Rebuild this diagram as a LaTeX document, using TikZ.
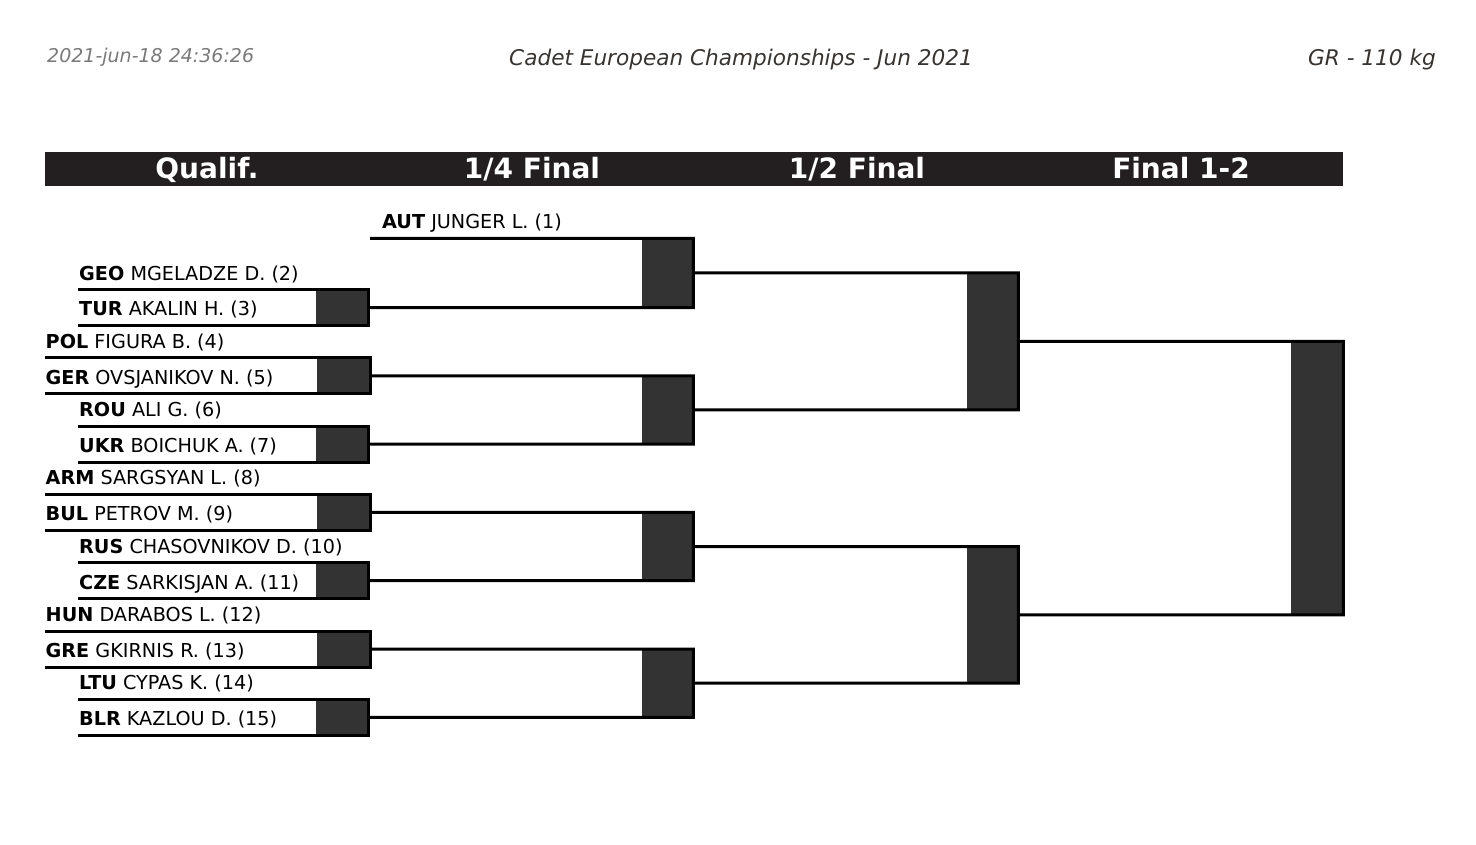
\documentclass[tikz,border=0pt]{standalone}
\usepackage{fontspec}
\setmainfont{DejaVu Sans}
\definecolor{boxc}{HTML}{333333}
\definecolor{barc}{HTML}{231F20}
\definecolor{datec}{HTML}{7A7A7A}
\definecolor{titc}{HTML}{363330}
\tikzset{
  ln/.style={line width=3pt, line join=miter},
  mbox/.style={fill=boxc, inner sep=0pt, outer sep=0pt, anchor=north west},
  qbox/.style={mbox, minimum width=52pt, minimum height=36pt},
  rbox/.style={mbox, minimum width=51.8pt},
  nm/.style={anchor=base west, inner sep=0pt, font=\fontsize{19.2}{22}\selectfont},
  hd/.style={anchor=base, inner sep=0pt, text=white, font=\fontsize{28}{30}\selectfont\bfseries},
  topt/.style={inner sep=0pt, font=\fontsize{21.6}{24}\selectfont\itshape, text=titc},
}
\begin{document}
\begin{tikzpicture}[x=1pt,y=-1pt]
\useasboundingbox (0,0) rectangle (1476,845);

% header texts
\node[topt, anchor=base west, text=datec, font=\fontsize{19}{22}\selectfont\itshape] (date) at (47,63) {2021-jun-18 24:36:26};
\node[topt, anchor=base] (title) at (741,66) {Cadet European Championships - Jun 2021};
\node[topt, anchor=base east] (cat) at (1436,66) {GR - 110 kg};

% round header bar
\node[fill=barc, inner sep=0pt, anchor=north west, minimum width=1298pt, minimum height=34pt] (bar) at (45,152) {};
\node[hd] (h1) at (207,179) {Qualif.};
\node[hd] (h2) at (532,179) {1/4 Final};
\node[hd] (h3) at (857,179) {1/2 Final};
\node[hd] (h4) at (1181,179) {Final 1-2};

% qualification boxes
\node[qbox] (q1) at (316,289.5) {};
\node[qbox, minimum width=53pt] (q2) at (317,357.8) {};
\node[qbox] (q3) at (316,426.1) {};
\node[qbox, minimum width=53pt] (q4) at (317,494.4) {};
\node[qbox] (q5) at (316,562.7) {};
\node[qbox, minimum width=53pt] (q6) at (317,631.0) {};
\node[qbox] (q7) at (316,699.3) {};

% quarter-final boxes
\node[rbox, minimum height=69.2pt] (r1) at (641.5,238.3) {};
\node[rbox, minimum height=68.3pt] (r2) at (641.5,375.8) {};
\node[rbox, minimum height=68.3pt] (r3) at (641.5,512.4) {};
\node[rbox, minimum height=68.3pt] (r4) at (641.5,649.0) {};

% semi-final boxes
\node[rbox, minimum height=137.05pt] (s1) at (966.5,272.9) {};
\node[rbox, minimum height=136.6pt] (s2) at (966.5,546.55) {};

% final box
\node[rbox, minimum width=52.3pt, minimum height=273.45pt] (fin) at (1291,341.4) {};

% names
\node[nm] (geo) at (79,280.0) {\textbf{GEO} MGELADZE D. (2)};
\node[nm] (tur) at (79,316.0) {\textbf{TUR} AKALIN H. (3)};
\node[nm] (pol) at (45.5,348.3) {\textbf{POL} FIGURA B. (4)};
\node[nm] (ger) at (45.5,384.3) {\textbf{GER} OVSJANIKOV N. (5)};
\node[nm] (rou) at (79,416.6) {\textbf{ROU} ALI G. (6)};
\node[nm] (ukr) at (79,452.6) {\textbf{UKR} BOICHUK A. (7)};
\node[nm] (arm) at (45.5,484.9) {\textbf{ARM} SARGSYAN L. (8)};
\node[nm] (bul) at (45.5,520.9) {\textbf{BUL} PETROV M. (9)};
\node[nm] (rus) at (79,553.2) {\textbf{RUS} CHASOVNIKOV D. (10)};
\node[nm] (cze) at (79,589.2) {\textbf{CZE} SARKISJAN A. (11)};
\node[nm] (hun) at (45.5,621.5) {\textbf{HUN} DARABOS L. (12)};
\node[nm] (gre) at (45.5,657.5) {\textbf{GRE} GKIRNIS R. (13)};
\node[nm] (ltu) at (79,689.8) {\textbf{LTU} CYPAS K. (14)};
\node[nm] (blr) at (79,725.8) {\textbf{BLR} KAZLOU D. (15)};
\node[nm] (aut) at (382,228.8) {\textbf{AUT} JUNGER L. (1)};

% free line ends
\coordinate (geoL) at (78,289.5);
\coordinate (turL) at (78,325.5);
\coordinate (polL) at (45,357.8);
\coordinate (gerL) at (45,393.8);
\coordinate (rouL) at (78,426.1);
\coordinate (ukrL) at (78,462.1);
\coordinate (armL) at (45,494.4);
\coordinate (bulL) at (45,530.4);
\coordinate (rusL) at (78,562.7);
\coordinate (czeL) at (78,598.7);
\coordinate (hunL) at (45,631.0);
\coordinate (greL) at (45,667.0);
\coordinate (ltuL) at (78,699.3);
\coordinate (blrL) at (78,735.3);
\coordinate (autL) at (370,238.3);

% qualification brackets
\draw[ln] (geoL) -- (q1.north east) -- (q1.south east) -- (turL);
\draw[ln] (polL) -- (q2.north east) -- (q2.south east) -- (gerL);
\draw[ln] (rouL) -- (q3.north east) -- (q3.south east) -- (ukrL);
\draw[ln] (armL) -- (q4.north east) -- (q4.south east) -- (bulL);
\draw[ln] (rusL) -- (q5.north east) -- (q5.south east) -- (czeL);
\draw[ln] (hunL) -- (q6.north east) -- (q6.south east) -- (greL);
\draw[ln] (ltuL) -- (q7.north east) -- (q7.south east) -- (blrL);

% quarter-final brackets
\draw[ln] (autL) -- (r1.north east) -- (r1.south east) -- (q1.east);
\draw[ln] (q2.east) -- (r2.north east) -- (r2.south east) -- (q3.east);
\draw[ln] (q4.east) -- (r3.north east) -- (r3.south east) -- (q5.east);
\draw[ln] (q6.east) -- (r4.north east) -- (r4.south east) -- (q7.east);

% semi-final brackets
\draw[ln] (r1.east) -- (s1.north east) -- (s1.south east) -- (r2.east);
\draw[ln] (r3.east) -- (s2.north east) -- (s2.south east) -- (r4.east);

% final bracket
\draw[ln] (s1.east) -- (fin.north east) -- (fin.south east) -- (s2.east);
\end{tikzpicture}
\end{document}
